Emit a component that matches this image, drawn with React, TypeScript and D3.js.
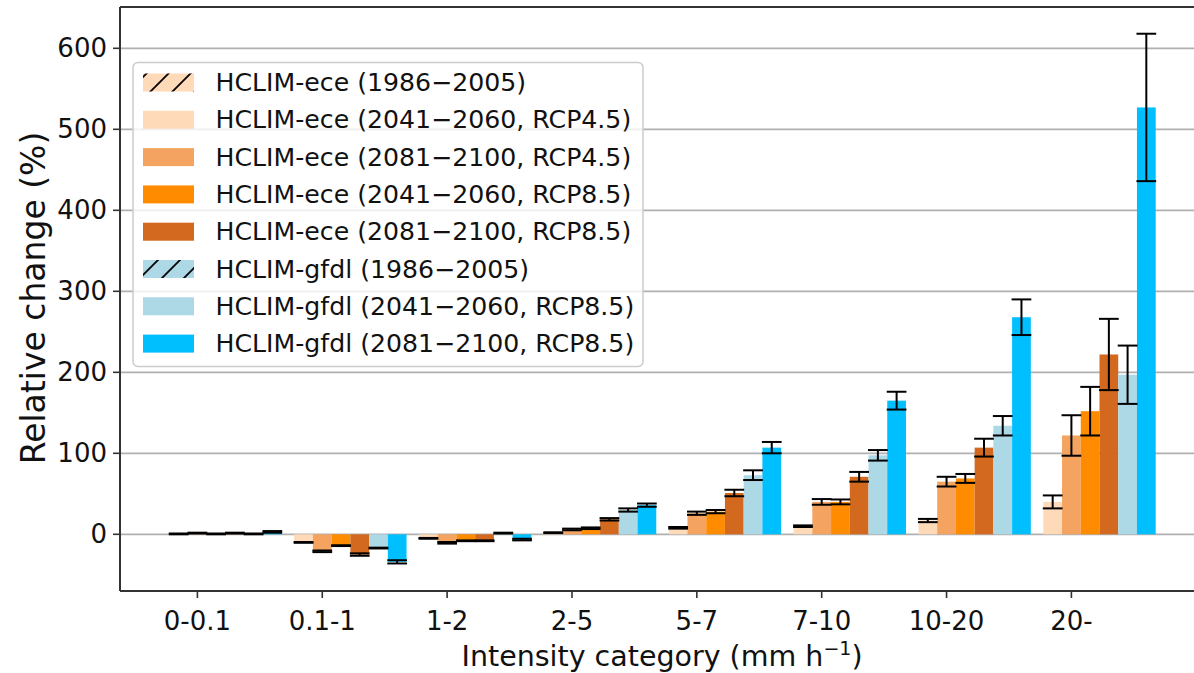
import React from "react";
import * as d3 from "d3";

const categories = ["0-0.1", "0.1-1", "1-2", "2-5", "5-7", "7-10", "10-20", "20-"];

const eceRcp45Mid = [0.5, -10, -5, 2, 8, 10, 17, 40];
const eceRcp45End = [1.5, -21, -10.5, 6, 26, 40, 65, 122];
const eceRcp85Mid = [0.5, -14, -8, 7.5, 28, 40, 69, 152];
const eceRcp85End = [1.5, -25, -8, 18.5, 51, 71, 107, 222];
const gfdlRcp85Mid = [0.5, -17, 1.5, 30, 73, 97.5, 134, 197];
const gfdlRcp85End = [3, -34, -6.5, 36, 107, 165, 268, 527];

const errEceRcp45Mid = [0.5, 0.5, 0.5, 0.5, 1, 1, 2, 8];
const errEceRcp45End = [0.5, 1, 1, 1, 2, 3.5, 6, 25];
const errEceRcp85Mid = [0.5, 0.5, 0.5, 1, 2, 3, 5.5, 30];
const errEceRcp85End = [0.5, 1.5, 0.5, 1.5, 4, 6, 11, 44];
const errGfdlRcp85Mid = [0.5, 0.5, 0.5, 2, 6, 6.5, 12, 36];
const errGfdlRcp85End = [1, 2, 1, 2, 7, 11, 22, 91];

const yTicks = [0, 100, 200, 300, 400, 500, 600];

const legendLabels = [
  "HCLIM-ece (1986\u22122005)",
  "HCLIM-ece (2041\u22122060, RCP4.5)",
  "HCLIM-ece (2081\u22122100, RCP4.5)",
  "HCLIM-ece (2041\u22122060, RCP8.5)",
  "HCLIM-ece (2081\u22122100, RCP8.5)",
  "HCLIM-gfdl (1986\u22122005)",
  "HCLIM-gfdl (2041\u22122060, RCP8.5)",
  "HCLIM-gfdl (2081\u22122100, RCP8.5)",
];
const legendColors = ["#FFDAB9", "#FFDAB9", "#F4A460", "#FF8C00", "#D2691E", "#ADD8E6", "#ADD8E6", "#00BFFF"];
const legendHatched = [true, false, false, false, false, true, false, false];

const seriesValues = [eceRcp45Mid, eceRcp45End, eceRcp85Mid, eceRcp85End, gfdlRcp85Mid, gfdlRcp85End];
const seriesErrors = [errEceRcp45Mid, errEceRcp45End, errEceRcp85Mid, errEceRcp85End, errGfdlRcp85Mid, errGfdlRcp85End];
const seriesColors = ["#FFDAB9", "#F4A460", "#FF8C00", "#D2691E", "#ADD8E6", "#00BFFF"];
const seriesOffsets = [-0.15, 0, 0.15, 0.3, 0.45, 0.6];
const barWidthUnits = 0.15;

const FONT = "DejaVu Sans, sans-serif";

export default function App() {
  const W = 1194;
  const H = 673;
  const left = 120;
  const right = 1205;
  const top = 7;
  const bottom = 591;
  const x = d3.scaleLinear().domain([-0.62, 8.07]).range([left, right]);
  const y = d3.scaleLinear().domain([-70, 651]).range([bottom, top]);
  const bw = x(barWidthUnits) - x(0);
  const capHalf = bw / 2 + 0.5;

  const bars: any[] = [];
  const errs: any[] = [];
  seriesValues.forEach((vals, s) => {
    vals.forEach((v, i) => {
      const cx = x(i + seriesOffsets[s]);
      const y0 = y(0);
      const yv = y(v);
      bars.push(
        <rect
          key={`b${s}-${i}`}
          x={cx - bw / 2}
          y={Math.min(y0, yv)}
          width={bw}
          height={Math.abs(yv - y0)}
          fill={seriesColors[s]}
        />
      );
      const e = seriesErrors[s][i];
      const yl = y(v - e);
      const yh = y(v + e);
      errs.push(
        <g key={`e${s}-${i}`} stroke="#000" strokeWidth={2}>
          <line x1={cx} x2={cx} y1={yl} y2={yh} />
          <line x1={cx - capHalf} x2={cx + capHalf} y1={yl} y2={yl} />
          <line x1={cx - capHalf} x2={cx + capHalf} y1={yh} y2={yh} />
        </g>
      );
    });
  });

  const legX = 133;
  const legY = 62.5;
  const rowY0 = 82.5;
  const rowDy = 37.3;

  return (
    <svg
      width={W}
      height={H}
      style={{ position: "absolute", left: 0, top: 0, background: "#fff" }}
      fontFamily={FONT}
    >
      <defs>
        <clipPath id="plotclip">
          <rect x={left} y={top} width={right - left} height={bottom - top} />
        </clipPath>
        <pattern id="hatch" patternUnits="userSpaceOnUse" width={22} height={22}>
          <path d="M-2,24 L24,-2 M-13,13 L13,-13 M9,35 L35,9" stroke="#000" strokeWidth={1.8} />
        </pattern>
      </defs>
      <rect x={0} y={0} width={W} height={H} fill="#fff" />
      <g stroke="#b0b0b0" strokeWidth={1.8}>
        {yTicks.map((t) => (
          <line key={t} x1={left} x2={right} y1={y(t)} y2={y(t)} />
        ))}
      </g>
      <g clipPath="url(#plotclip)">
        {bars}
        {errs}
      </g>
      <g stroke="#333" strokeWidth={2} fill="none">
        <line x1={left} x2={left} y1={top} y2={bottom} />
        <line x1={left} x2={right} y1={top} y2={top} />
        <line x1={left} x2={right} y1={bottom} y2={bottom} />
        <line x1={right} x2={right} y1={top} y2={bottom} />
      </g>
      <g>
        {yTicks.map((t) => (
          <g key={t}>
            <line x1={left - 7} x2={left} y1={y(t)} y2={y(t)} stroke="#333" strokeWidth={1.6} />
            <text x={left - 13} y={y(t)} textAnchor="end" dominantBaseline="central" fontSize={26} fill="#111">
              {t}
            </text>
          </g>
        ))}
      </g>
      <g>
        {categories.map((c, i) => (
          <g key={c}>
            <line x1={x(i)} x2={x(i)} y1={bottom} y2={bottom + 7} stroke="#333" strokeWidth={1.6} />
            <text x={x(i)} y={630} textAnchor="middle" fontSize={26} fill="#111">
              {c}
            </text>
          </g>
        ))}
      </g>
      <text x={662} y={666} textAnchor="middle" fontSize={28.5} fill="#111">
        Intensity category (mm h
        <tspan baselineShift="super" fontSize={19}>{"\u22121"}</tspan>)
      </text>
      <text
        transform={`translate(33,298) rotate(-90)`}
        textAnchor="middle"
        dominantBaseline="central"
        fontSize={33}
        fill="#111"
      >
        Relative change (%)
      </text>
      <g>
        <rect x={legX} y={legY} width={510} height={304} rx={5} fill="#fff" fillOpacity={0.8} stroke="#cccccc" strokeWidth={1.5} />
        {legendLabels.map((lab, i) => {
          const cy = rowY0 + i * rowDy;
          return (
            <g key={lab}>
              <rect x={143} y={cy - 9} width={51} height={18} fill={legendColors[i]} />
              {legendHatched[i] && <rect x={143} y={cy - 9} width={51} height={18} fill="url(#hatch)" />}
              <text x={215.5} y={cy} dominantBaseline="central" fontSize={25.2} fill="#111">
                {lab}
              </text>
            </g>
          );
        })}
      </g>
    </svg>
  );
}
